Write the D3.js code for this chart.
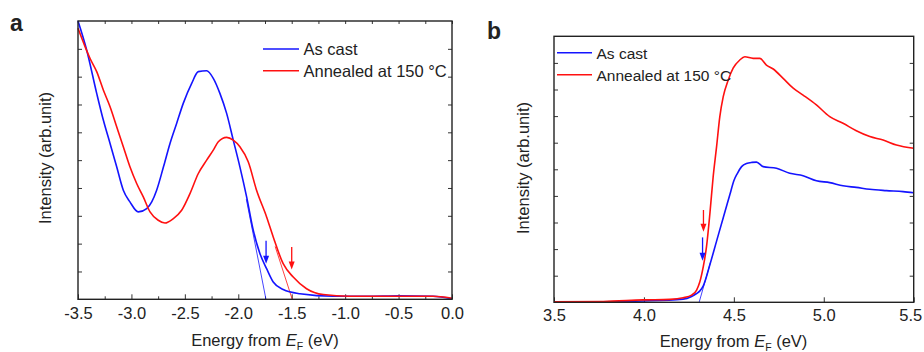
<!DOCTYPE html>
<html>
<head>
<meta charset="utf-8">
<script src="https://cdn.jsdelivr.net/npm/d3@7"></script>
<style>
  html, body { margin: 0; padding: 0; background: #fff; }
  svg { display: block; }
  text { font-family: "Liberation Sans", Arial, sans-serif; fill: #222; }
</style>
</head>
<body>
<svg id="chart" width="924" height="352"></svg>
<script>
// ---------- Panel a data (UPS valence region) ----------
const aCastE = [-3.5,-3.419,-3.325,-3.263,-3.2,-3.138,-3.076,-3.014,-2.936,-2.857,-2.81,-2.764,-2.70,-2.639,-2.577,-2.515,-2.436,-2.374,-2.296,-2.234,-2.172,-2.109,-2.047,-1.985,-1.922,-1.86,-1.797,-1.735,-1.673,-1.58,-1.423,-1.11,-0.8,-0.488,-0.176,0.0];
const aCastI = [10.0,8.96,7.40,6.44,5.60,4.76,3.92,3.50,3.14,3.26,3.50,3.92,4.76,5.60,6.32,7.04,7.76,8.18,8.21,7.94,7.40,6.68,5.72,4.76,3.68,2.48,1.64,1.10,0.62,0.35,0.20,0.11,0.11,0.13,0.11,0.02];
const aAnnE = [-3.5,-3.434,-3.388,-3.325,-3.263,-3.2,-3.138,-3.076,-3.014,-2.951,-2.889,-2.826,-2.749,-2.686,-2.608,-2.53,-2.452,-2.374,-2.296,-2.234,-2.187,-2.109,-2.047,-1.985,-1.907,-1.829,-1.735,-1.673,-1.58,-1.486,-1.361,-1.205,-0.96,-0.49,-0.18,0.0];
const aAnnI = [9.74,9.08,8.66,8.18,7.52,6.92,6.20,5.48,4.76,4.16,3.68,3.14,2.84,2.74,2.90,3.20,3.80,4.52,5.0,5.36,5.66,5.82,5.72,5.48,4.94,3.92,2.96,2.24,1.28,0.80,0.38,0.17,0.11,0.11,0.11,0.04];
// onset extrapolation lines [E, I]
const aCastFit = [[-1.925, 3.6], [-1.741, 0]];
const aAnnFit  = [[-1.655, 1.9], [-1.495, 0]];
// arrows [E, Itop, Ibottom]
const aCastArrow = [-1.74, 2.10, 1.28];
const aAnnArrow  = [-1.50, 1.88, 1.07];
const aTickLabels = ["-3.5","-3.0","-2.5","-2.0","-1.5","-1.0","-0.5","0.0"];

// ---------- Panel b data (secondary electron cutoff) ----------
const bCastE = [3.5,3.996,4.218,4.265,4.293,4.31,4.33,4.367,4.404,4.441,4.478,4.50,4.52,4.543,4.57,4.60,4.626,4.663,4.737,4.811,4.885,4.959,5.033,5.107,5.181,5.256,5.348,5.441,5.5];
const bCastI = [0.0,0.05,0.12,0.22,0.33,0.42,0.62,1.42,2.30,3.18,4.05,4.57,4.85,5.10,5.22,5.26,5.27,5.10,5.04,4.85,4.76,4.57,4.50,4.38,4.32,4.25,4.20,4.16,4.12];
const bAnnE = [3.5,3.774,3.996,4.144,4.218,4.265,4.293,4.311,4.33,4.348,4.367,4.385,4.404,4.422,4.441,4.469,4.496,4.533,4.561,4.607,4.644,4.681,4.719,4.774,4.83,4.885,4.959,5.033,5.107,5.181,5.256,5.33,5.404,5.5];
const bAnnI = [0.02,0.03,0.09,0.11,0.17,0.27,0.46,0.77,1.34,2.09,3.35,4.72,5.85,6.98,7.73,8.36,8.80,9.11,9.23,9.17,9.17,8.92,8.77,8.42,8.05,7.79,7.42,6.98,6.73,6.45,6.23,6.10,5.91,5.79];
const bCastFit = [[4.307, 0], [4.37, 1.5]];
const bCastArrow = [4.326, 2.44, 1.56];
const bAnnArrow  = [4.331, 3.47, 2.65];
const bTickLabels = ["3.5","4.0","4.5","5.0","5.5"];

const legendLabels = ["As cast", "Annealed at 150 \u00B0C"];
const BLUE = "#1414ff", RED = "#ff1010";

const svg = d3.select("#chart");

function panel(cfg) {
  const x = d3.scaleLinear().domain(cfg.xDomain).range([cfg.left, cfg.right]);
  const y = d3.scaleLinear().domain([0, 10]).range([cfg.bottom, cfg.top]);
  const g = svg.append("g");

  // y ticks (left & right, inward, no labels)
  g.append("g").attr("transform", `translate(${cfg.left},0)`)
    .call(d3.axisRight(y).tickValues(d3.range(1, 10)).tickSize(4).tickFormat(""))
    .call(s => s.select(".domain").remove())
    .call(s => s.selectAll("line").attr("stroke", "#333"));
  g.append("g").attr("transform", `translate(${cfg.right},0)`)
    .call(d3.axisLeft(y).tickValues(d3.range(1, 10)).tickSize(4).tickFormat(""))
    .call(s => s.select(".domain").remove())
    .call(s => s.selectAll("line").attr("stroke", "#333"));

  // x axis major ticks + labels (inward ticks)
  const xa = g.append("g").attr("transform", `translate(0,${cfg.bottom})`)
    .call(d3.axisBottom(x).tickValues(cfg.majors).tickSizeInner(-5).tickSizeOuter(0)
      .tickPadding(0).tickFormat((d, i) => cfg.labels[i]));
  xa.select(".domain").remove();
  xa.selectAll("line").attr("stroke", "#333");
  xa.selectAll("text").attr("y", cfg.labelDy).attr("dy", 0)
    .style("font-size", "16.5px").style("font-family", "'Liberation Sans', Arial, sans-serif").attr("fill", "#222");
  if (cfg.lastLabelEnd) {
    xa.selectAll("text").filter((d, i, n) => i === n.length - 1)
      .attr("text-anchor", "end").attr("x", cfg.lastLabelEnd);
  }

  if (cfg.minors) {
    g.append("g").attr("transform", `translate(0,${cfg.bottom})`)
      .call(d3.axisBottom(x).tickValues(cfg.minors).tickSizeInner(-3).tickSizeOuter(0).tickFormat(""))
      .call(s => s.select(".domain").remove())
      .call(s => s.selectAll("line").attr("stroke", "#333"));
  }
  if (cfg.topTicks) {
    g.append("g").attr("transform", `translate(0,${cfg.top})`)
      .call(d3.axisTop(x).tickValues(cfg.majors.concat(cfg.minors)).tickSizeInner(-3).tickSizeOuter(0).tickFormat(""))
      .call(s => s.select(".domain").remove())
      .call(s => s.selectAll("line").attr("stroke", "#333"));
  }

  const line = d3.line().x(d => x(d[0])).y(d => y(d[1])).curve(d3.curveMonotoneX);
  const plain = d3.line().x(d => x(d[0])).y(d => y(d[1]));

  // fit lines
  cfg.fits.forEach(f => {
    g.append("path").attr("d", plain(f.pts)).attr("fill", "none")
      .attr("stroke", f.color).attr("stroke-width", 0.8);
  });

  // curves
  cfg.series.forEach(s => {
    g.append("path").datum(d3.zip(s.e, s.i)).attr("d", line)
      .attr("fill", "none").attr("stroke", s.color).attr("stroke-width", 1.6)
      .attr("stroke-linejoin", "round");
  });

  // arrows
  cfg.arrows.forEach(a => {
    const ax = x(a.v[0]), y1 = y(a.v[1]), y2 = y(a.v[2]);
    g.append("line").attr("x1", ax).attr("x2", ax).attr("y1", y1).attr("y2", y2 - 6)
      .attr("stroke", a.color).attr("stroke-width", 1.3);
    g.append("path").attr("d", `M${ax - 3},${y2 - 8} L${ax + 3},${y2 - 8} L${ax},${y2} Z`)
      .attr("fill", a.color);
  });

  // frame
  g.append("rect").attr("x", cfg.left).attr("y", cfg.top)
    .attr("width", cfg.right - cfg.left).attr("height", cfg.bottom - cfg.top)
    .attr("fill", "none").attr("stroke", "#222").attr("stroke-width", 1.4);

  // legend
  cfg.series.forEach((s, i) => {
    const ly = cfg.legend.y[i];
    g.append("line").attr("x1", cfg.legend.x1).attr("x2", cfg.legend.x2)
      .attr("y1", ly).attr("y2", ly).attr("stroke", s.color).attr("stroke-width", 1.6);
    g.append("text").attr("x", cfg.legend.tx).attr("y", ly + 6)
      .style("font-size", cfg.legend.fs).text(legendLabels[i]);
  });

  // x title
  const xt = g.append("text").attr("x", cfg.xTitle[0]).attr("y", cfg.xTitle[1])
    .attr("text-anchor", "middle").style("font-size", "16.5px");
  xt.append("tspan").text("Energy from ");
  xt.append("tspan").style("font-style", "italic").text("E");
  xt.append("tspan").attr("dy", 4).style("font-size", "10.5px").text("F");
  xt.append("tspan").attr("dy", -4).text(" (eV)");

  // y title
  g.append("text").attr("transform", `translate(${cfg.yTitle[0]},${cfg.yTitle[1]}) rotate(-90)`)
    .attr("text-anchor", "middle").style("font-size", "16.5px").text("Intensity (arb.unit)");

  // panel letter
  g.append("text").attr("x", cfg.letter[0]).attr("y", cfg.letter[1])
    .style("font-size", "23px").style("font-weight", "bold").attr("fill", "#111").text(cfg.letter[2]);
}

panel({
  xDomain: [-3.5, 0], left: 78, right: 452, top: 21, bottom: 299.3,
  majors: d3.range(8).map(i => -3.5 + i * 0.5),
  minors: d3.range(7).map(i => -3.25 + i * 0.5),
  labels: aTickLabels, labelDy: 20, topTicks: true,
  series: [
    { e: aCastE, i: aCastI, color: BLUE },
    { e: aAnnE, i: aAnnI, color: RED }
  ],
  fits: [ { pts: aCastFit, color: BLUE }, { pts: aAnnFit, color: RED } ],
  arrows: [ { v: aCastArrow, color: BLUE }, { v: aAnnArrow, color: RED } ],
  legend: { x1: 263, x2: 299, tx: 303.5, y: [49, 70.7], fs: "16.5px" },
  xTitle: [265, 346], yTitle: [51, 158], letter: [10, 31, "a"]
});

panel({
  xDomain: [3.5, 5.5], left: 554, right: 913.7, top: 36.3, bottom: 302.3,
  majors: [3.5, 4.0, 4.5, 5.0, 5.5], minors: null,
  labels: bTickLabels, labelDy: 18.5, topTicks: false, lastLabelEnd: 8,
  series: [
    { e: bCastE, i: bCastI, color: BLUE },
    { e: bAnnE, i: bAnnI, color: RED }
  ],
  fits: [ { pts: bCastFit, color: BLUE } ],
  arrows: [ { v: bAnnArrow, color: RED }, { v: bCastArrow, color: BLUE } ],
  legend: { x1: 557, x2: 592, tx: 596.5, y: [52.7, 74.7], fs: "15.5px" },
  xTitle: [733.5, 347], yTitle: [529, 168], letter: [487, 39, "b"]
});
</script>
</body>
</html>
